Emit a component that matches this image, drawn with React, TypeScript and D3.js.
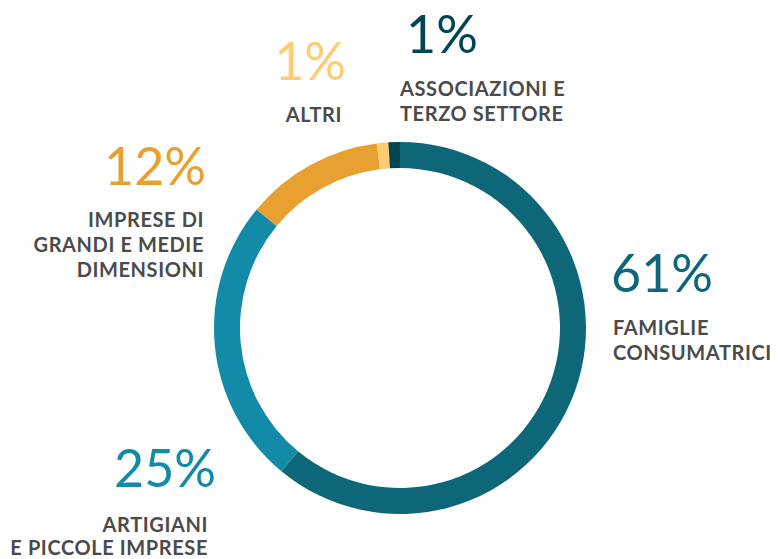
import React from "react";
import * as d3 from "d3";

// data
const categories = [
  "FAMIGLIE CONSUMATRICI",
  "ARTIGIANI E PICCOLE IMPRESE",
  "IMPRESE DI GRANDI E MEDIE DIMENSIONI",
  "ALTRI",
  "ASSOCIAZIONI E TERZO SETTORE",
];
const shares = [61, 25, 12, 1, 1];
const labelLines = [
  ["FAMIGLIE", "CONSUMATRICI"],
  ["ARTIGIANI", "E PICCOLE IMPRESE"],
  ["IMPRESE DI", "GRANDI E MEDIE", "DIMENSIONI"],
  ["ALTRI"],
  ["ASSOCIAZIONI E", "TERZO SETTORE"],
];
const colors = ["#0e6679", "#128aa8", "#e8a130", "#ffcb73", "#004552"];

// label placement (layout only)
const labelLayout = [
  { x: 613, pctX: 611, pctY: 292, y: 335, anchor: "start", lh: 25 },
  { x: 208, pctX: 216, pctY: 487, y: 532, anchor: "end", lh: 23 },
  { x: 204, pctX: 206, pctY: 185, y: 227, anchor: "end", lh: 25 },
  { x: 342, pctX: 346, pctY: 80, y: 122, anchor: "end", lh: 25 },
  { x: 400, pctX: 406, pctY: 53, y: 96, anchor: "start", lh: 25 },
];

const W = 780;
const H = 559;
const cx = 400;
const cy = 328;

export default function App() {
  const pie = d3
    .pie<number>()
    .sort(null)
    .value((d) => d)
    .startAngle(0)
    .endAngle(2 * Math.PI);
  const arc = d3
    .arc<d3.PieArcDatum<number>>()
    .innerRadius(160)
    .outerRadius(186);
  const arcs = pie(shares);

  return (
    <svg
      width={W}
      height={H}
      style={{ position: "absolute", left: 0, top: 0, background: "#fff" }}
    >
      <g transform={`translate(${cx},${cy})`}>
        {arcs.map((a, i) => (
          <path key={categories[i]} d={arc(a) || ""} fill={colors[i]} />
        ))}
      </g>
      {categories.map((c, i) => {
        const L = labelLayout[i];
        return (
          <g key={c}>
            <text
              x={L.pctX}
              y={L.pctY}
              textAnchor={L.anchor}
              fill={colors[i]}
              style={{ fontFamily: "Lato", fontWeight: 400, fontSize: 52 }}
            >
              {shares[i]}%
            </text>
            {labelLines[i].map((line, j) => (
              <text
                key={line}
                x={L.x}
                y={L.y + j * L.lh}
                textAnchor={L.anchor}
                fill="#4b4b4b"
                style={{
                  fontFamily: "Lato",
                  fontWeight: 700,
                  fontSize: 20,
                  letterSpacing: 0.6,
                }}
              >
                {line}
              </text>
            ))}
          </g>
        );
      })}
    </svg>
  );
}
